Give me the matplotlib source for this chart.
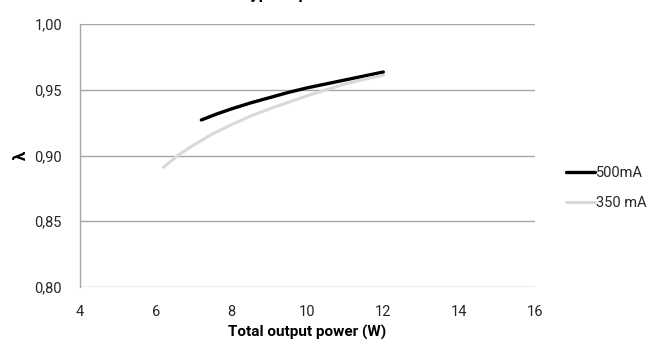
import matplotlib
matplotlib.use("Agg")
import matplotlib.pyplot as plt
from matplotlib.ticker import FuncFormatter

plt.rcParams['font.family'] = ['Roboto', 'DejaVu Sans']

title = "Typical power factor"
x_label = "Total output power (W)"
y_label = "λ"

series_names = ["500mA", "350 mA"]
x_500 = [7.2, 7.6, 8.0, 8.5, 9.0, 9.5, 10.0, 10.5, 11.0, 11.5, 12.0]
y_500 = [0.927, 0.9315, 0.9355, 0.940, 0.944, 0.948, 0.9515, 0.9545, 0.9575, 0.9605, 0.9635]
x_350 = [6.2, 6.6, 7.0, 7.5, 8.0, 8.5, 9.0, 9.5, 10.0, 10.5, 11.0, 11.5, 12.0]
y_350 = [0.891, 0.9005, 0.908, 0.9165, 0.9235, 0.930, 0.9355, 0.9405, 0.9455, 0.9500, 0.9545, 0.958, 0.961]

x_ticks = [4, 6, 8, 10, 12, 14, 16]
y_ticks = [0.80, 0.85, 0.90, 0.95, 1.00]

W, H = 654, 347
fig = plt.figure(figsize=(W / 100, H / 100), dpi=100)
ax = fig.add_axes([80 / W, 1 - 287 / H, (535 - 80) / W, (287 - 24) / H])

grid_c = '#a6a6a6'
ax.set_xlim(4, 16)
ax.set_ylim(0.80, 1.00)
ax.set_xticks(x_ticks)
ax.set_yticks(y_ticks)
ax.yaxis.set_major_formatter(FuncFormatter(lambda v, p: f"{v:.2f}".replace('.', ',')))
ax.xaxis.set_major_formatter(FuncFormatter(lambda v, p: f"{int(v)}"))
ax.grid(axis='y', color=grid_c, linewidth=1)
ax.set_axisbelow(True)
for s in ['top', 'right', 'bottom']:
    ax.spines[s].set_visible(False)
ax.spines['left'].set_color(grid_c)
ax.spines['left'].set_linewidth(1)
ax.tick_params(axis='both', length=0, labelsize=10.5, colors='#262626')
ax.tick_params(axis='x', pad=13)
ax.tick_params(axis='y', pad=13)

l1, = ax.plot(x_500, y_500, color='black', linewidth=2.4, solid_capstyle='round')
l2, = ax.plot(x_350, y_350, color='#d9d9d9', linewidth=2.2, solid_capstyle='round')

ax.set_xlabel(x_label, fontsize=11, fontweight='bold', labelpad=4)
ax.set_ylabel(y_label, fontsize=12, fontweight='bold', rotation=90, labelpad=4)

leg = fig.legend([l1, l2], series_names, loc='center left',
                 bbox_to_anchor=(560 / W, 1 - 188 / H), frameon=False,
                 fontsize=10.5, handlelength=2.0, handletextpad=0.1,
                 labelspacing=1.1, borderaxespad=0.0)
for t in leg.get_texts():
    t.set_color('#262626')

fig.text(317 / W, 1.0 + 1.0 / H, title, ha='center', va='baseline',
         fontsize=12, fontweight='bold')

fig.savefig("out.png", dpi=100)
